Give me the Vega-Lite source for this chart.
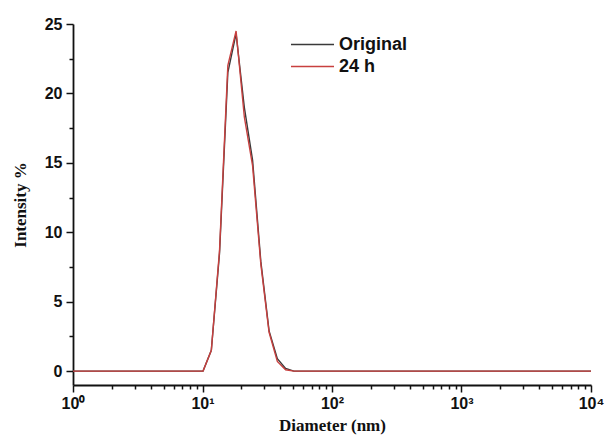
{
  "$schema": "https://vega.github.io/schema/vega-lite/v6.json",
  "width": 518,
  "height": 361,
  "autosize": {"type": "none"},
  "padding": {"left": 73, "top": 24, "right": 15, "bottom": 56},
  "background": "white",
  "config": {"view": {"stroke": null}},
  "data": {
    "values": [
      {"d": 1, "v": 0, "s": "Original"},
      {"d": 10.1, "v": 0, "s": "Original"},
      {"d": 11.7, "v": 1.5, "s": "Original"},
      {"d": 13.54, "v": 8.5, "s": "Original"},
      {"d": 15.69, "v": 21.5, "s": "Original"},
      {"d": 18.17, "v": 24.3, "s": "Original"},
      {"d": 21.04, "v": 19.0, "s": "Original"},
      {"d": 24.36, "v": 15.2, "s": "Original"},
      {"d": 28.21, "v": 7.9, "s": "Original"},
      {"d": 32.67, "v": 2.9, "s": "Original"},
      {"d": 37.84, "v": 0.9, "s": "Original"},
      {"d": 43.82, "v": 0.2, "s": "Original"},
      {"d": 50.75, "v": 0, "s": "Original"},
      {"d": 10000, "v": 0, "s": "Original"},
      {"d": 1, "v": 0, "s": "24 h"},
      {"d": 10.1, "v": 0, "s": "24 h"},
      {"d": 11.7, "v": 1.5, "s": "24 h"},
      {"d": 13.54, "v": 8.7, "s": "24 h"},
      {"d": 15.69, "v": 22.0, "s": "24 h"},
      {"d": 18.17, "v": 24.5, "s": "24 h"},
      {"d": 21.04, "v": 18.3, "s": "24 h"},
      {"d": 24.36, "v": 14.8, "s": "24 h"},
      {"d": 28.21, "v": 7.7, "s": "24 h"},
      {"d": 32.67, "v": 2.8, "s": "24 h"},
      {"d": 37.84, "v": 0.7, "s": "24 h"},
      {"d": 43.82, "v": 0.1, "s": "24 h"},
      {"d": 50.75, "v": 0, "s": "24 h"},
      {"d": 10000, "v": 0, "s": "24 h"}
    ]
  },
  "mark": {"type": "line", "strokeWidth": 1.4, "clip": true},
  "encoding": {
    "x": {
      "field": "d",
      "type": "quantitative",
      "scale": {"type": "log", "domain": [1, 10000]},
      "axis": {
        "title": "Diameter (nm)",
        "titleFont": "Liberation Serif",
        "titleFontSize": 17,
        "titleFontWeight": "bold",
        "titleColor": "#111",
        "titlePadding": 6,
        "values": [1,2,3,4,5,6,7,8,9,10,20,30,40,50,60,70,80,90,100,200,300,400,500,600,700,800,900,1000,2000,3000,4000,5000,6000,7000,8000,9000,10000],
        "labelExpr": "datum.value == 1 ? '10⁰' : datum.value == 10 ? '10¹' : datum.value == 100 ? '10²' : datum.value == 1000 ? '10³' : datum.value == 10000 ? '10⁴' : ''",
        "labelOverlap": false,
        "labelFont": "Liberation Sans",
        "labelFontSize": 16,
        "labelFontWeight": "bold",
        "labelColor": "#111",
        "labelPadding": 3,
        "labelFlush": false,
        "tickSize": {"condition": {"test": "datum.value == 1 || datum.value == 10 || datum.value == 100 || datum.value == 1000 || datum.value == 10000", "value": 7}, "value": 4},
        "tickWidth": 1.5,
        "tickColor": "#111",
        "domainColor": "#111",
        "domainWidth": 1.8,
        "grid": false
      }
    },
    "y": {
      "field": "v",
      "type": "quantitative",
      "scale": {"domain": [-1, 25], "nice": false, "zero": false},
      "axis": {
        "title": "Intensity %",
        "titleFont": "Liberation Serif",
        "titleFontSize": 17,
        "titleFontWeight": "bold",
        "titleColor": "#111",
        "titlePadding": 15,
        "values": [0, 2.5, 5, 7.5, 10, 12.5, 15, 17.5, 20, 22.5, 25],
        "labelExpr": "datum.value % 5 == 0 ? format(datum.value, 'd') : ''",
        "labelOverlap": false,
        "labelFont": "Liberation Sans",
        "labelFontSize": 16,
        "labelFontWeight": "bold",
        "labelColor": "#111",
        "labelPadding": 4,
        "tickSize": {"condition": {"test": "datum.value % 5 == 0", "value": 7}, "value": 4},
        "tickWidth": 1.5,
        "tickColor": "#111",
        "domainColor": "#111",
        "domainWidth": 1.8,
        "grid": false
      }
    },
    "color": {
      "field": "s",
      "type": "nominal",
      "scale": {"domain": ["Original", "24 h"], "range": ["#3a3a3a", "#c8403f"]},
      "legend": {
        "title": null,
        "orient": "none",
        "legendX": 227,
        "legendY": 8,
        "symbolType": "M-1.87,0H1.87",
        "symbolSize": 529,
        "symbolStrokeWidth": 1.5,
        "labelFont": "Liberation Sans",
        "labelFontSize": 18,
        "labelFontWeight": "bold",
        "labelColor": "#111",
        "labelOffset": 14,
        "rowPadding": 0
      }
    },
    "order": {"field": "d", "type": "quantitative"}
  }
}
